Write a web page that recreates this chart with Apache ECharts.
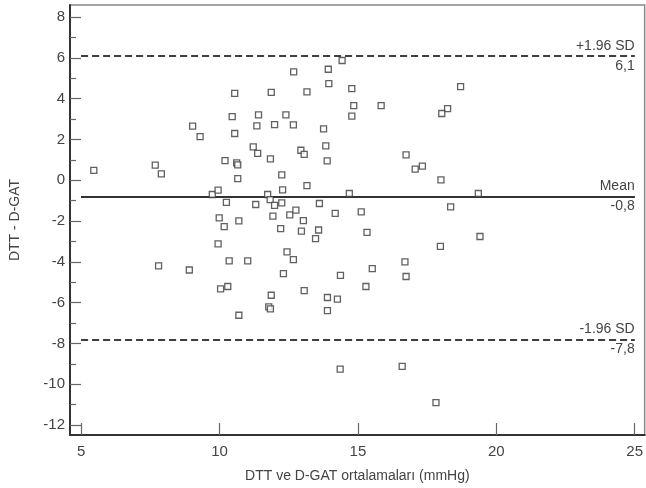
<!DOCTYPE html>
<html>
<head>
<meta charset="utf-8">
<title>Bland-Altman</title>
<script src="https://cdn.jsdelivr.net/npm/echarts@6.0.0/dist/echarts.min.js"></script>
<style>
  html, body { margin: 0; padding: 0; background: #fff; }
  #chart { width: 646px; height: 488px; }
</style>
</head>
<body>
<div id="chart"></div>
<script>
// ortalamalar (x) ve farklar (y)
var avgValues = [
  5.46, 7.68, 7.90, 9.03, 9.30, 10.55, 10.46, 10.55, 10.20, 10.62,
  10.66, 10.66, 9.74, 9.95, 10.25, 9.99, 10.17, 10.70, 9.95, 11.87,
  13.16, 12.68, 13.93, 13.95, 11.41, 11.35, 11.99, 12.40, 12.67, 13.76,
  11.22, 11.38, 11.84, 12.94, 13.06, 13.84, 13.89, 12.25, 12.28, 13.16,
  11.74, 11.83, 11.99, 12.25, 11.31, 13.61, 11.93, 12.54, 12.76, 13.03,
  12.21, 12.96, 13.58, 13.47, 12.44, 12.67, 12.31, 7.80, 8.91, 10.35,
  11.02, 10.04, 10.30, 10.70, 11.87, 11.78, 11.84, 13.06, 13.90, 13.90,
  14.43, 14.78, 18.71, 14.85, 15.84, 14.78, 18.24, 18.03, 16.74, 17.07,
  17.33, 18.00, 14.69, 19.35, 18.35, 14.18, 15.12, 15.33, 19.41, 17.98,
  16.70, 16.74, 15.52, 14.37, 15.29, 14.26, 14.36, 16.60, 17.82
];
var diffValues = [
  0.48, 0.74, 0.31, 2.65, 2.14, 4.26, 3.12, 2.29, 0.96, 0.85,
  0.75, 0.08, -0.70, -0.49, -1.09, -1.85, -2.27, -1.99, -3.12, 4.31,
  4.33, 5.31, 5.44, 4.74, 3.20, 2.66, 2.73, 3.20, 2.71, 2.52,
  1.63, 1.32, 1.05, 1.47, 1.27, 1.68, 0.95, 0.26, -0.47, -0.26,
  -0.70, -0.95, -1.23, -1.11, -1.19, -1.14, -1.76, -1.70, -1.47, -1.98,
  -2.37, -2.50, -2.44, -2.86, -3.51, -3.89, -4.58, -4.20, -4.40, -3.95,
  -3.95, -5.33, -5.21, -6.62, -5.64, -6.21, -6.31, -5.41, -5.75, -6.39,
  5.87, 4.49, 4.59, 3.66, 3.66, 3.14, 3.51, 3.27, 1.24, 0.54,
  0.69, 0.02, -0.65, -0.65, -1.31, -1.63, -1.55, -2.56, -2.76, -3.24,
  -4.00, -4.72, -4.33, -4.66, -5.21, -5.83, -9.26, -9.13, -10.90
];

var xTicks = [5, 10, 15, 20, 25];
var yTicks = [-12, -10, -8, -6, -4, -2, 0, 2, 4, 6, 8];
var yMinorTicks = [-11, -9, -7, -5, -3, -1, 1, 3, 5, 7];

// referans çizgileri
var lineNames = ['+1.96 SD', 'Mean', '-1.96 SD'];
var lineValues = [6.1, -0.8, -7.8];
var lineTexts = ['6,1', '-0,8', '-7,8'];
var lineTypes = ['dashed', 'solid', 'dashed'];

var points = avgValues.map(function (v, i) { return [v, diffValues[i]]; });

var font = "'Liberation Sans', Arial, sans-serif";
var textColor = '#444';

var markData = [];
lineValues.forEach(function (v, i) {
  var style = { color: '#333', width: lineTypes[i] === 'solid' ? 2 : 1.6, type: lineTypes[i] === 'solid' ? 'solid' : [7, 4] };
  markData.push([
    { coord: [5, v], lineStyle: style,
      label: { formatter: lineNames[i], position: 'insideEndTop', distance: [0, 3] } },
    { coord: [25, v] }
  ]);
  markData.push([
    { coord: [5, v], lineStyle: style,
      label: { formatter: lineTexts[i], position: 'insideEndBottom', distance: [0, 3] } },
    { coord: [25, v] }
  ]);
});

var chart = echarts.init(document.getElementById('chart'));
var option = {
  backgroundColor: '#fff',
  animation: false,
  textStyle: { fontFamily: font },
  grid: {
    left: 67, top: 5, right: 1, bottom: 53,
    show: true, borderColor: '#888', borderWidth: 1.5
  },
  xAxis: [{
    type: 'value',
    min: 4.6,
    max: 25.36,
    name: 'DTT ve D-GAT ortalamaları (mmHg)',
    nameLocation: 'middle',
    nameGap: 34,
    nameTextStyle: { color: textColor, fontSize: 14, fontFamily: font },
    axisLine: { show: true, onZero: false, lineStyle: { color: '#333', width: 2 } },
    axisTick: { show: false },
    axisLabel: { customValues: xTicks, color: textColor, fontSize: 15, margin: 9, fontFamily: font },
    splitLine: { show: false }
  }, {
    type: 'value',
    position: 'bottom',
    min: 4.6,
    max: 25.36,
    axisLine: { show: false, onZero: false },
    axisTick: { show: true, inside: true, length: 12, customValues: xTicks, lineStyle: { color: '#666', width: 1.2 } },
    axisLabel: { show: false },
    splitLine: { show: false }
  }],
  yAxis: [{
    type: 'value',
    min: -12.49,
    max: 8.59,
    name: 'DTT - D-GAT',
    nameLocation: 'middle',
    nameGap: 48,
    nameTextStyle: { color: textColor, fontSize: 14, fontFamily: font },
    axisLine: { show: true, onZero: false, lineStyle: { color: '#333', width: 2 } },
    axisTick: { show: true, inside: true, length: 11, customValues: yTicks, lineStyle: { color: '#666', width: 1.2 } },
    axisLabel: { customValues: yTicks, color: textColor, fontSize: 15, margin: 5, fontFamily: font },
    splitLine: { show: false }
  }, {
    type: 'value',
    position: 'left',
    min: -12.49,
    max: 8.59,
    axisLine: { show: false, onZero: false },
    axisTick: { show: true, inside: true, length: 6, customValues: yMinorTicks, lineStyle: { color: '#666', width: 1.2 } },
    axisLabel: { show: false },
    splitLine: { show: false }
  }],
  series: [{
    type: 'scatter',
    data: points,
    symbol: 'rect',
    symbolSize: 6,
    itemStyle: { color: '#fff', borderColor: '#3a3a3a', borderWidth: 1.3 },
    z: 3,
    markLine: {
      silent: true,
      symbol: 'none',
      z: 2,
      label: { color: textColor, fontSize: 14, fontFamily: font },
      data: markData
    }
  }]
};
chart.setOption(option);
</script>
</body>
</html>
